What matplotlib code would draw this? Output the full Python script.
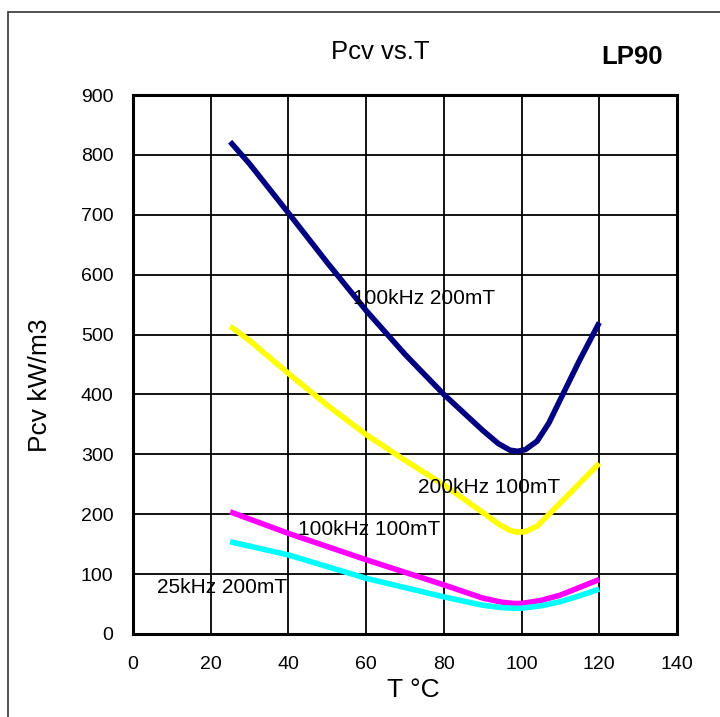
import matplotlib.pyplot as plt
from matplotlib.patches import Rectangle

plt.rcParams['font.family'] = ['Liberation Sans', 'DejaVu Sans']

# Core loss vs temperature
t_100k_200m = [25, 30, 40, 50, 60, 70, 80, 85, 90, 94, 97, 99, 101, 104, 107, 110, 115, 120]
p_100k_200m = [822, 785, 703, 620, 540, 467, 400, 370, 340, 318, 307, 305, 308, 322, 352, 392, 458, 520]

t_200k_100m = [25, 30, 40, 50, 60, 70, 80, 90, 94, 97, 99, 101, 104, 110, 115, 120]
p_200k_100m = [514, 490, 435, 382, 333, 290, 249, 203, 184, 173, 170, 171, 180, 219, 252, 285]

t_100k_100m = [25, 40, 60, 80, 90, 95, 98, 100, 105, 110, 115, 120]
p_100k_100m = [204, 168, 124, 82, 60, 53, 51, 51, 56, 65, 78, 91]

t_25k_200m = [25, 40, 60, 80, 90, 95, 98, 100, 105, 110, 115, 120]
p_25k_200m = [154, 132, 93, 62, 48, 44, 43, 43, 47, 54, 64, 75]

x_ticks = [0, 20, 40, 60, 80, 100, 120, 140]
y_ticks = [0, 100, 200, 300, 400, 500, 600, 700, 800, 900]

fig = plt.figure(figsize=(7.2, 7.17), dpi=100)
ax = fig.add_axes([133 / 720, 1 - 634 / 717, 544 / 720, 539 / 717])

# figure frame (open at right and bottom, as in the source image)
fig.patches.append(Rectangle((8 / 720, -0.1), 1.2, 1 - 12 / 717 + 0.1,
                             transform=fig.transFigure, fill=False,
                             edgecolor='#333333', linewidth=1.2))

style = dict(lw=4, solid_capstyle='butt', solid_joinstyle='round')
ax.plot(t_100k_200m, p_100k_200m, color='#000080', **style)
ax.plot(t_200k_100m, p_200k_100m, color='#ffff00', **style)
ax.plot(t_100k_100m, p_100k_100m, color='#ff00ff', **style)
ax.plot(t_25k_200m, p_25k_200m, color='#00ffff', **style)

ax.set_xlim(0, 140)
ax.set_ylim(0, 900)
ax.set_xticks(x_ticks)
ax.set_yticks(y_ticks)
ax.tick_params(length=0, labelsize=14)
ax.tick_params(axis='y', pad=14)
ax.tick_params(axis='x', pad=16)
ax.grid(True, color='black', linewidth=1.3)
ax.set_axisbelow(True)
for s in ax.spines.values():
    s.set_linewidth(2.2)

ax.text(75, 561, "100kHz 200mT", fontsize=15, ha='center', va='center')
ax.text(91.6, 245, "200kHz 100mT", fontsize=15, ha='center', va='center')
ax.text(60.7, 174, "100kHz 100mT", fontsize=15, ha='center', va='center')
ax.text(22.9, 78, "25kHz 200mT", fontsize=15, ha='center', va='center')

fig.text(380 / 720, 1 - 52 / 717, "Pcv vs.T", fontsize=18.5, ha='center', va='center')
fig.text(632 / 720, 1 - 57 / 717, "LP90", fontsize=18.5, fontweight='bold', ha='center', va='center')
fig.text(40 / 720, 1 - 385 / 717, "Pcv kW/m3", fontsize=19, rotation=90, ha='center', va='center')
fig.text(413 / 720, 1 - 690 / 717, "T °C", fontsize=19, ha='center', va='center')

plt.savefig("out.png", dpi=100)
